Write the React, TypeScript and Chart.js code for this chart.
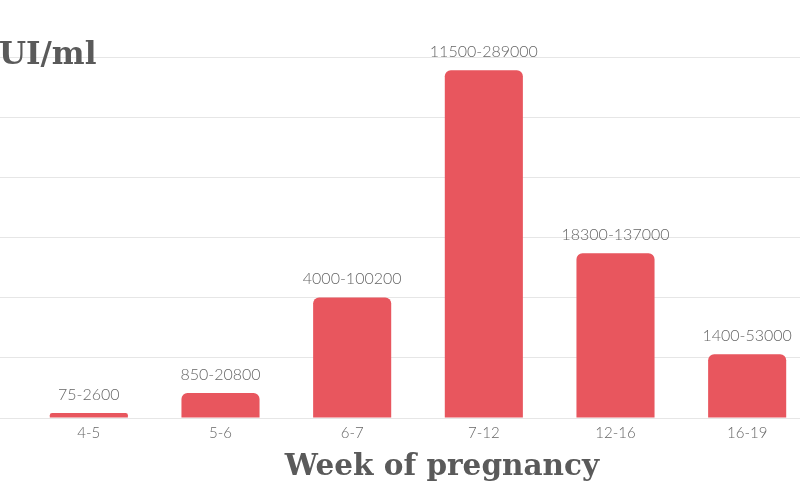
import React, { useEffect, useRef } from "react";
import { Chart, registerables } from "chart.js";

Chart.register(...registerables);

const weeks = ["4-5", "5-6", "6-7", "7-12", "12-16", "16-19"];
const lowValues = [75, 850, 4000, 11500, 18300, 1400];
const highValues = [2600, 20800, 100200, 289000, 137000, 53000];
const yTicks = [0, 50000, 100000, 150000, 200000, 250000, 300000];

const BAR_COLOR = "#E8565E";
const TEXT_GRAY = "#666666";
const TITLE_GRAY = "#5a5a5a";

const rangeLabelPlugin = {
  id: "rangeLabels",
  afterDatasetsDraw(chart: any) {
    const ctx = chart.ctx;
    const meta = chart.getDatasetMeta(0);
    ctx.save();
    ctx.font = "300 16px Lato";
    ctx.fillStyle = TEXT_GRAY;
    ctx.textAlign = "center";
    ctx.textBaseline = "alphabetic";
    meta.data.forEach((bar: any, i: number) => {
      const label = `${lowValues[i]}-${highValues[i]}`;
      ctx.fillText(label, bar.x, bar.y - 13);
    });
    ctx.restore();
  },
};

export default function App() {
  const canvasRef = useRef<HTMLCanvasElement | null>(null);

  useEffect(() => {
    if (!canvasRef.current) return;
    const chart = new Chart(canvasRef.current, {
      type: "bar",
      data: {
        labels: weeks,
        datasets: [
          {
            data: highValues,
            backgroundColor: BAR_COLOR,
            borderRadius: 6,
            borderSkipped: "bottom",
            barPercentage: 0.593,
            categoryPercentage: 1,
            minBarLength: 5,
          },
        ],
      },
      options: {
        responsive: false,
        animation: false,
        devicePixelRatio: 1,
        layout: { padding: { top: 57, bottom: 52, left: 0, right: 0 } },
        plugins: {
          legend: { display: false },
          tooltip: { enabled: false },
          title: { display: false },
        },
        scales: {
          x: {
            grid: { display: false, drawTicks: false },
            border: { display: false },
            ticks: {
              color: TEXT_GRAY,
              font: { family: "Lato", size: 15, weight: "300" as any },
              padding: 6,
            },
          },
          y: {
            min: yTicks[0],
            max: yTicks[yTicks.length - 1],
            afterBuildTicks(scale: any) {
              scale.ticks = yTicks.map((v) => ({ value: v }));
            },
            grid: {
              color: "#e6e6e6",
              drawTicks: true,
              tickLength: 23,
              lineWidth: 1,
            },
            border: { display: false },
            ticks: { display: false },
          },
        },
      },
      plugins: [rangeLabelPlugin],
    });
    return () => chart.destroy();
  }, []);

  return (
    <div
      style={{
        position: "absolute",
        left: 0,
        top: 0,
        width: 800,
        height: 500,
        overflow: "hidden",
        background: "#ffffff",
      }}
    >
      <canvas
        ref={canvasRef}
        width={813}
        height={500}
        style={{ position: "absolute", left: 0, top: 0, width: 813, height: 500 }}
      />
      <div
        style={{
          position: "absolute",
          left: -1,
          top: 38,
          fontFamily: "'DejaVu Serif', serif",
          fontWeight: "bold",
          fontSize: 31,
          lineHeight: "31px",
          color: TITLE_GRAY,
          whiteSpace: "nowrap",
        }}
      >
        UI/ml
      </div>
      <div
        style={{
          position: "absolute",
          left: 42,
          top: 450,
          width: 800,
          textAlign: "center",
          fontFamily: "'DejaVu Serif', serif",
          fontWeight: "bold",
          fontSize: 29.5,
          lineHeight: "29.5px",
          color: TITLE_GRAY,
          whiteSpace: "nowrap",
        }}
      >
        Week of pregnancy
      </div>
    </div>
  );
}
